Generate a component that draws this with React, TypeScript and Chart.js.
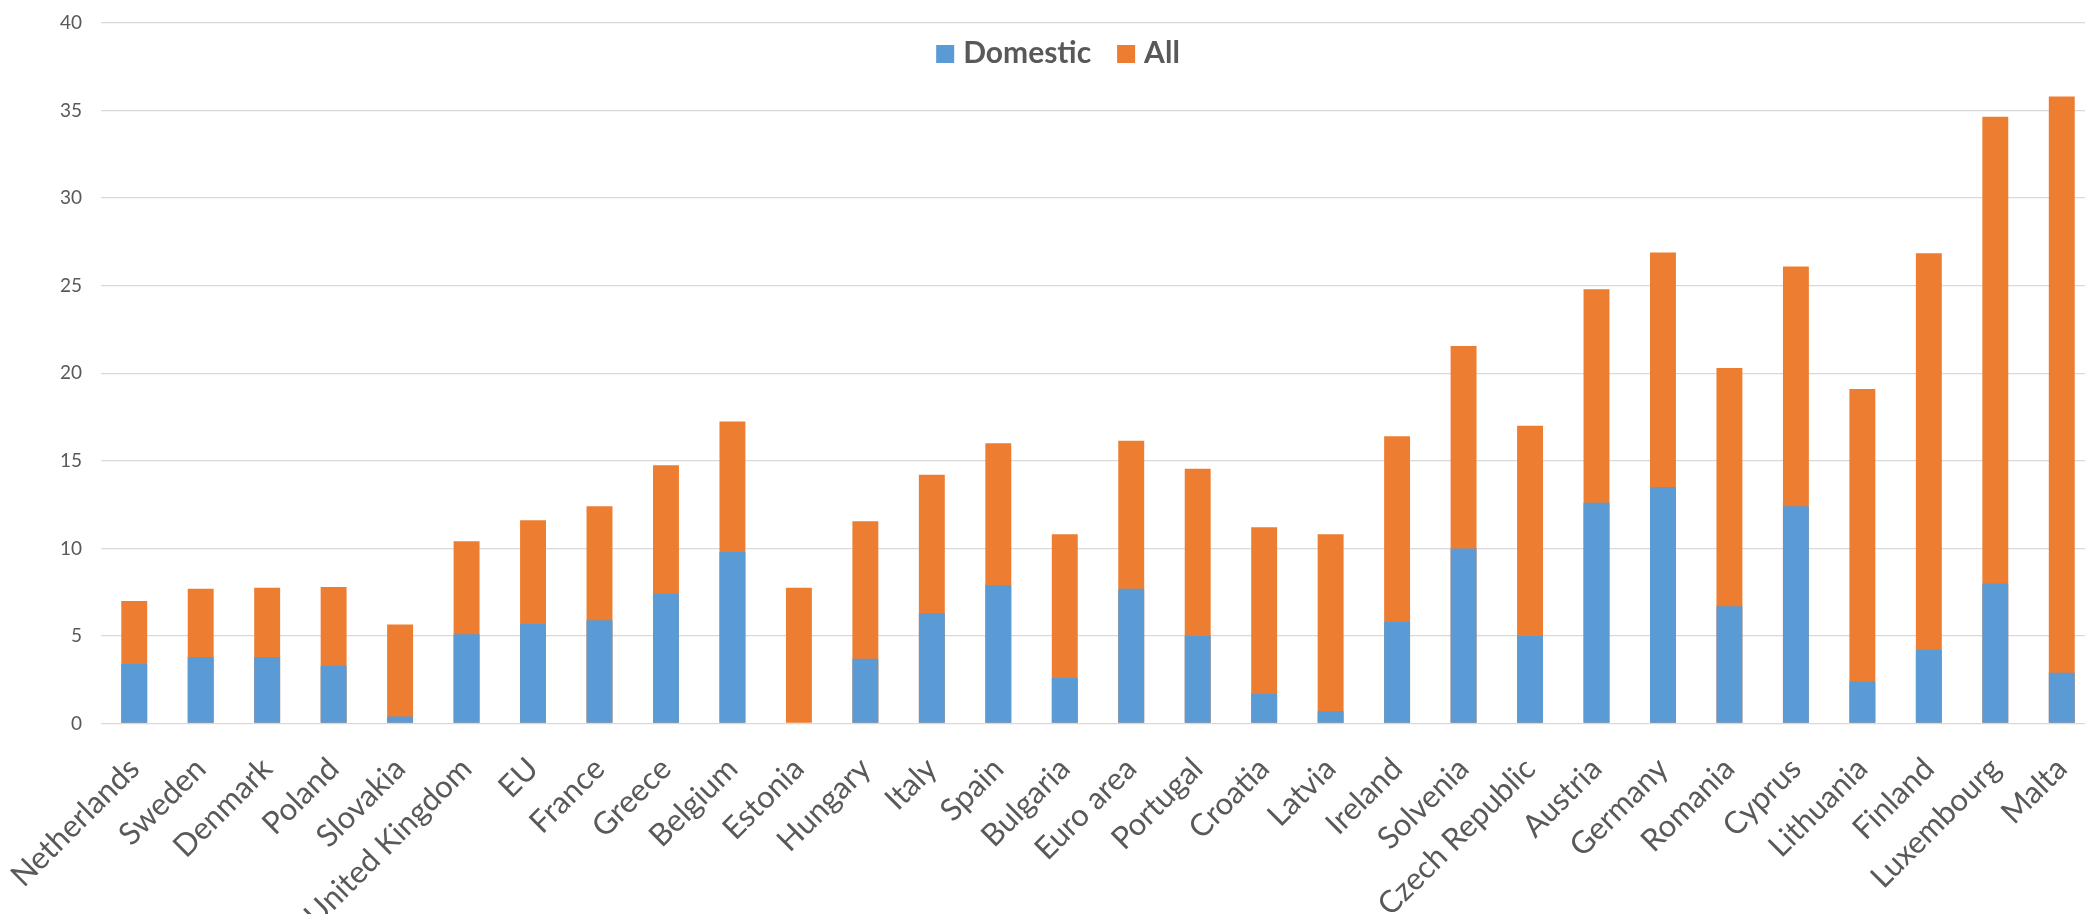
import React, { useEffect, useRef } from "react";
import { Chart, registerables } from "chart.js";

Chart.register(...registerables);

// Countries along the x axis
const categories = [
  "Netherlands", "Sweden", "Denmark", "Poland", "Slovakia", "United Kingdom",
  "EU", "France", "Greece", "Belgium", "Estonia", "Hungary", "Italy", "Spain",
  "Bulgaria", "Euro area", "Portugal", "Croatia", "Latvia", "Ireland",
  "Solvenia", "Czech Republic", "Austria", "Germany", "Romania", "Cyprus",
  "Lithuania", "Finland", "Luxembourg", "Malta",
];

// Domestic share (drawn in front)
const domesticValues = [
  3.4, 3.8, 3.8, 3.3, 0.4, 5.1, 5.7, 5.9, 7.4, 9.8, 0, 3.7, 6.3, 7.9, 2.6,
  7.7, 5.0, 1.7, 0.7, 5.8, 10.0, 5.0, 12.6, 13.5, 6.7, 12.4, 2.4, 4.2, 8.0, 2.9,
];

// Total for all (drawn behind)
const allValues = [
  7.0, 7.7, 7.75, 7.8, 5.65, 10.4, 11.6, 12.4, 14.75, 17.25, 7.75, 11.55, 14.2,
  16.0, 10.8, 16.15, 14.55, 11.2, 10.8, 16.4, 21.55, 17.0, 24.8, 26.9, 20.3,
  26.1, 19.1, 26.85, 34.65, 35.8,
];

// Value axis range and step
const yMin = 0;
const yMax = 40;
const yStep = 5;

const FONT = "Lato, 'Open Sans', sans-serif";
const TEXT_COLOR = "#595959";

// Horizontal legend drawn inside the plot area
const insideLegend = {
  id: "insideLegend",
  afterDraw(chart: any, _args: any, opts: any) {
    const ctx = chart.ctx as CanvasRenderingContext2D;
    ctx.save();
    ctx.font = `bold ${opts.fontSize}px ${FONT}`;
    const items = chart.data.datasets.map((ds: any) => ({
      label: ds.label as string,
      color: ds.backgroundColor as string,
      w: ctx.measureText(ds.label).width,
    }));
    const box = opts.boxSize;
    const gap = opts.gap;
    const spacing = opts.spacing;
    const total =
      items.reduce((s: number, it: any) => s + box + gap + it.w, 0) +
      spacing * (items.length - 1);
    let x = opts.centerX - total / 2;
    for (const it of items) {
      ctx.fillStyle = it.color;
      ctx.fillRect(x, opts.boxTop, box, box);
      x += box + gap;
      ctx.fillStyle = TEXT_COLOR;
      ctx.textBaseline = "alphabetic";
      ctx.textAlign = "left";
      ctx.fillText(it.label, x, opts.baseline);
      x += it.w + spacing;
    }
    ctx.restore();
  },
};

export default function App() {
  const canvasRef = useRef<HTMLCanvasElement | null>(null);

  useEffect(() => {
    const canvas = canvasRef.current;
    if (!canvas) return;
    const chart = new Chart(canvas, {
      type: "bar",
      data: {
        labels: categories,
        datasets: [
          {
            label: "Domestic",
            data: domesticValues,
            backgroundColor: "#5B9BD5",
            borderWidth: 0,
            grouped: false,
            barPercentage: 0.39,
            categoryPercentage: 1,
          },
          {
            label: "All",
            data: allValues,
            backgroundColor: "#ED7D31",
            borderWidth: 0,
            grouped: false,
            barPercentage: 0.39,
            categoryPercentage: 1,
          },
        ],
      },
      options: {
        responsive: false,
        animation: false,
        layout: { padding: { top: 23, left: 0, right: 0, bottom: 0 } },
        plugins: {
          legend: { display: false },
          tooltip: { enabled: false },
          insideLegend: {
            fontSize: 30,
            boxSize: 18,
            gap: 9,
            spacing: 26,
            centerX: 1058,
            boxTop: 45,
            baseline: 63,
          },
        } as any,
        scales: {
          x: {
            grid: { display: false, drawTicks: false },
            border: { display: false },
            ticks: {
              color: TEXT_COLOR,
              font: { family: FONT, size: 31 },
              minRotation: 45,
              maxRotation: 45,
              autoSkip: false,
              padding: 27,
            },
            afterFit(scale: any) {
              scale.height = 190.5;
              scale.paddingLeft = 0;
              scale.paddingRight = 0;
            },
          },
          y: {
            min: yMin,
            max: yMax,
            stacked: false,
            grid: { color: "#D9D9D9", lineWidth: 1.3, drawTicks: false },
            border: { display: false },
            ticks: {
              stepSize: yStep,
              color: TEXT_COLOR,
              font: { family: FONT, size: 19 },
              padding: 19,
            },
            afterFit(scale: any) {
              scale.width = 101;
              scale.paddingTop = 0;
              scale.paddingBottom = 0;
            },
          },
        },
      },
      plugins: [insideLegend],
    });
    return () => chart.destroy();
  }, []);

  return (
    <div
      style={{
        position: "fixed",
        left: 0,
        top: 0,
        width: 2085,
        height: 914,
        overflow: "hidden",
        background: "#ffffff",
      }}
    >
      <canvas
        ref={canvasRef}
        width={2095}
        height={914}
        style={{ display: "block" }}
      />
    </div>
  );
}
